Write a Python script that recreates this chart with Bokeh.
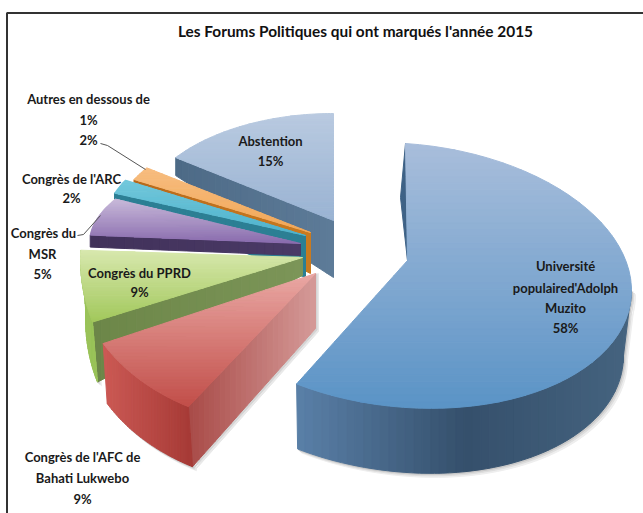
import numpy as np
from bokeh.plotting import figure
from bokeh.models import ColumnDataSource, Range1d
from bokeh.core.properties import value
from bokeh.embed import file_html
from bokeh.resources import INLINE

TITLE = "Les Forums Politiques qui ont marqués l'année 2015"
names = ["Université populaired'Adolph Muzito", "Congrès de l'AFC de Bahati Lukwebo", "Congrès du PPRD",
         "Congrès du MSR", "Congrès de l'ARC", "Autres en dessous de 1%", "Abstention"]
shares = [58, 9, 9, 5, 2, 2, 15]
percent_labels = ["58%", "9%", "9%", "5%", "2%", "2%", "15%"]

# projection of each exploded slice: apex, rim ellipse centre and radii, wall depths
apex = [(407, 260), (315, 273), (302, 257), (300, 243), (305, 235), (310, 232), (333, 220)]
rim = [(405, 275, 226, 132), (292, 266, 216, 160), (177, 258, 97, 132), (457, 242, 368, 118),
       (300, 235, 200, 115), (300, 232, 190, 110), (333, 220, 195, 107)]
rim_tilt = [15, 0, 0, 0, 0, 0, 0]
wall_rim = [(1, 65), (4, 60), (5, 60), (0, 12), (0, 6), (0, 5), (0, 18)]
wall_shrink = [9, 0, 0, 0, 0, 0, 0]
wall_apex = [0, 55, 18, 12, 42, 41, 57]
face_cols = [("#a9bedb", "#5a93c6"), ("#e9a8a4", "#c24e49"), ("#d8e8ae", "#a2c85c"), ("#c9bbda", "#8a6cae"),
             ("#72c8dc", "#4fb3cc"), ("#f7bd80", "#f2a858"), ("#b9cae0", "#9ab3d3")]
rim_cols = [("#5a80a8", "#35506c", "#45637f"), ("#cc5a55", "#a63a36"), ("#9ac35a", "#9ac35a"),
            None, None, None, None]
radial_cols = [None, ("#a84a47", "#d59a98"), ("#6c8648", "#7c9558"), ("#41315a", "#4a3a66"),
               ("#2c7f94", "#2c7f94"), ("#b8691a", "#c97a20"), ("#4d6a86", "#5d7b98")]

ends = np.cumsum(shares) / np.sum(shares) * 2 * np.pi
starts = np.r_[0, ends[:-1]]


def hex2rgb(c):
    return np.array([int(c[i:i + 2], 16) for i in (1, 3, 5)], float)


def ramp(stops, t):
    t = min(max(t, 0), 1) * (len(stops) - 1)
    i = min(int(t), len(stops) - 2)
    c = hex2rgb(stops[i]) * (1 - (t - i)) + hex2rgb(stops[i + 1]) * (t - i)
    return "#%02x%02x%02x" % tuple(int(round(v)) for v in c)


def clip(poly, axis, lo, hi):
    def half(pts, keep, cut):
        out = []
        for k in range(len(pts)):
            a, b = pts[k], pts[(k + 1) % len(pts)]
            if keep(a):
                out.append(a)
            if keep(a) != keep(b):
                s = (cut - a[axis]) / (b[axis] - a[axis])
                out.append((a[0] + s * (b[0] - a[0]), a[1] + s * (b[1] - a[1])))
        return out
    pts = half(poly, lambda q: q[axis] >= lo, lo)
    return half(pts, lambda q: q[axis] <= hi, hi) if pts else []


xs, ys, cols = [], [], []


def add(poly, c):
    xs.append([q[0] for q in poly])
    ys.append([q[1] for q in poly])
    cols.append(c)


def shade(poly, stops, axis, n=40):
    vals = [q[axis] for q in poly]
    edges = np.linspace(min(vals), max(vals), n + 1)
    for k in range(n):
        part = clip(poly, axis, edges[k], edges[k + 1])
        if len(part) >= 3:
            add(part, ramp(stops, (k + .5) / n))


def rim_pts(i, t0, t1, n=60):
    cx, cy, a, b = rim[i]
    th = np.linspace(t0, t1, n)
    return list(zip(cx + a * np.sin(th), cy - b * np.cos(th) + rim_tilt[i] * np.sin(th)))


def band_of(i):
    dx, dy = wall_rim[i]
    t0 = starts[i] if i else np.pi / 2
    band = rim_pts(i, t0, ends[i])
    th = np.linspace(t0, ends[i], len(band))
    low = [(q[0] + dx - wall_shrink[i] * max(np.sin(t), 0), q[1] + dy) for q, t in zip(band, th)]
    return band + low[::-1]


# soft shadows under the thick walls
for i in (0, 1, 2):
    for off, c in ((4, "#eeeeee"), (2.5, "#dddddd"), (1.2, "#c8c8c8")):
        add([(q[0] + off, q[1] + off) for q in band_of(i)], c)
for off, c in ((3, "#e8e8e8"), (1.5, "#d4d4d4")):
    cc = rim_pts(1, starts[1], starts[1])[0]
    add([(apex[1][0] + off, apex[1][1]), (apex[1][0] + off, apex[1][1] + wall_apex[1] + off),
         (cc[0] + wall_rim[1][0] + off, cc[1] + wall_rim[1][1] + off)], c)

# back to front
for i in [6, 5, 4, 3, 2, 1, 0]:
    dx, dy = wall_rim[i]
    arc = rim_pts(i, starts[i], ends[i])
    ax, ay = apex[i]
    c0 = arc[0]
    if radial_cols[i]:
        shade([c0, (ax, ay), (ax, ay + wall_apex[i]), (c0[0] + dx, c0[1] + dy)], radial_cols[i], 0, 24)
    else:
        add([c0, (c0[0] - 5, c0[1] + 54), (ax, ay)], "#3e6286")
    if rim_cols[i]:
        shade(band_of(i), rim_cols[i], 0, 40)
    shade([apex[i]] + arc, face_cols[i], 1, 40)

p = figure(width=643, height=513, x_range=Range1d(0, 643), y_range=Range1d(513, 0),
           output_backend="svg", toolbar_location=None, min_border=0, outline_line_color=None,
           background_fill_color="white")
p.axis.visible = False
p.grid.visible = False

src = ColumnDataSource(dict(xs=xs, ys=ys, c=cols))
p.patches("xs", "ys", source=src, fill_color="c", line_color="c", line_width=1)

# page frame of the reference: top and left rules only
p.line([6.5, 6.5, 643], [513, 12.5, 12.5], line_color="#333333", line_width=2)

# leader lines
p.line([100, 107, 145], [143, 145, 169], line_color="#555555", line_width=1)
p.line([77, 83, 100], [235, 234, 215], line_color="#555555", line_width=1)

FONT = value("Lato")
p.text([355], [30], text=[TITLE], text_font=FONT, text_font_style="bold", text_font_size="15.4px",
       text_color="#111111", text_align="center", text_baseline="middle")

lab_lines = ["Université", "populaired'Adolph", "Muzito", percent_labels[0],
             "Congrès de l'AFC de", "Bahati Lukwebo", percent_labels[1],
             "Congrès du PPRD", percent_labels[2],
             "Congrès du", "MSR", percent_labels[3],
             "Congrès de l'ARC", percent_labels[4],
             "Autres en dessous de", "1%", percent_labels[5],
             "Abstention", percent_labels[6]]
lab_x = [565, 565, 565, 565, 82, 82, 82, 139, 139, 43, 42, 42, 71, 71, 88, 88, 88, 270, 270]
lab_y = [265, 287, 307, 327, 456, 477, 498, 272, 291, 232, 253, 273, 178, 197, 98, 119, 139, 140, 160]
p.text(lab_x, lab_y, text=lab_lines, text_font=FONT, text_font_style="bold", text_font_size="13px",
       text_color="#1a1a1a", text_align="center", text_baseline="middle")

open("out.html", "w").write(file_html(p, INLINE))
